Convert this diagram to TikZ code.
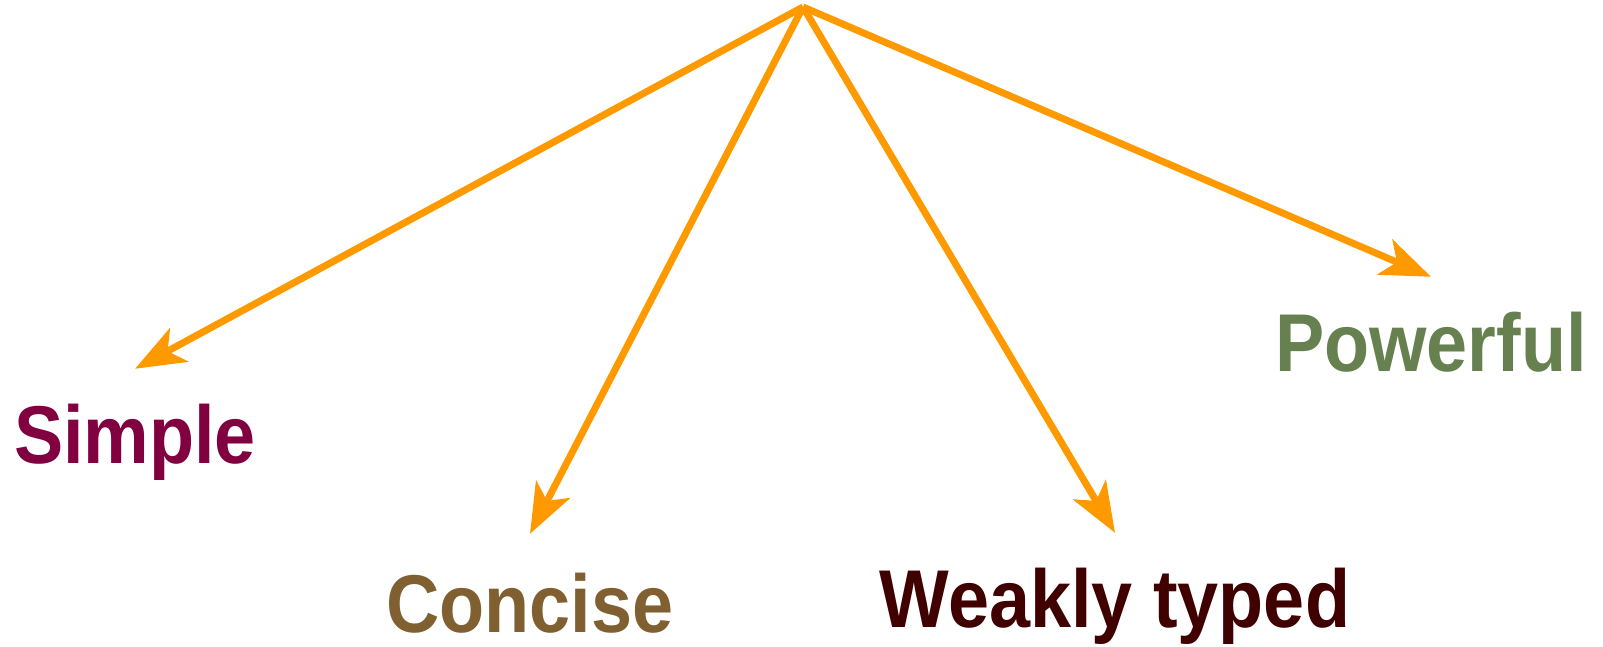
\documentclass[tikz,border=0pt]{standalone}
\usepackage{fontspec}
\setmainfont[FakeStretch=0.9]{Liberation Sans}
\usetikzlibrary{arrows.meta}
\definecolor{arrorange}{RGB}{255,153,0}
\definecolor{simplecol}{RGB}{128,0,64}
\definecolor{concisecol}{RGB}{128,96,48}
\definecolor{weakcol}{RGB}{64,0,0}
\definecolor{powercol}{RGB}{102,128,80}

\begin{document}
\begin{tikzpicture}[x=1pt,y=1pt,
    word/.style={anchor=base,inner sep=0pt,text height=59pt,text depth=0pt,
      font=\fontsize{82}{82}\selectfont\bfseries},
    arr/.style={-{Stealth[length=50pt,width=38pt,inset=13pt]},
      arrorange,line width=7pt}]
        \useasboundingbox (0,0) rectangle (1603,647);
        %
        \coordinate (apex) at (803,640);
        %
        \node[word,simplecol] (simple) at (135,183) {Simple};
        \node[word,concisecol] (concise) at (530,14) {Concise};
        \node[word,weakcol] (weak) at (1115,19) {Weakly typed};
        \node[word,powercol] (power) at (1431,275) {Powerful};
        %
        \draw[arr] (apex) -- ([yshift=36pt]simple.north);
        \draw[arr] (apex) -- ([yshift=40pt]concise.north);
        \draw[arr] (apex) -- ([yshift=36pt]weak.north);
        \draw[arr] (apex) -- ([yshift=36pt]power.north);
\end{tikzpicture}
\end{document}
